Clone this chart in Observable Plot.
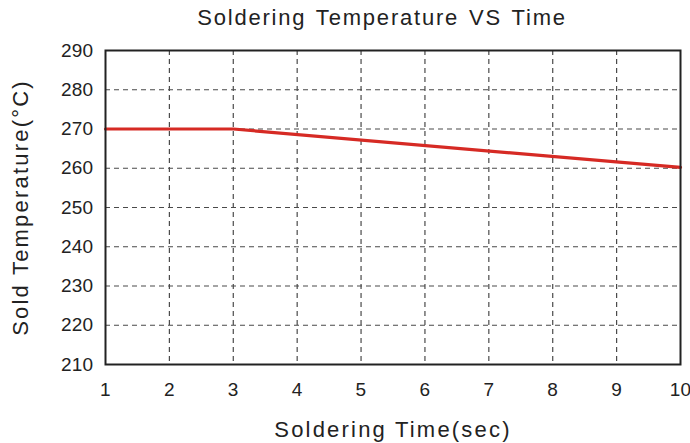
<!DOCTYPE html>
<html>
<head>
<meta charset="utf-8">
<script src="https://cdn.jsdelivr.net/npm/d3@7"></script>
<script src="https://cdn.jsdelivr.net/npm/@observablehq/plot@0.6"></script>
<style>
  body { margin: 0; background: #fff; font-family: "Liberation Sans", Arial, sans-serif; overflow: hidden; }
  #title { height: 40px; line-height: 36px; text-align: center; font-size: 22px; color: #222; letter-spacing: 1.8px; word-spacing: 2px; width: 690px; padding-left: 74px; box-sizing: border-box; white-space: nowrap; }
  svg { overflow: visible; }
  g[aria-label="x-axis label"] text, g[aria-label="y-axis label"] text { font-size: 22px !important; letter-spacing: 2.2px; fill: #222; }
  g[aria-label="x-axis label"], g[aria-label="y-axis label"] { font-size: 22px !important; }
  g[aria-label="x-axis tick label"], g[aria-label="y-axis tick label"] { letter-spacing: 0.3px; }
</style>
</head>
<body>
<div id="title">Soldering Temperature VS Time</div>
<div id="chart"></div>
<script>
const times = [1, 3, 10];
const temps = [270, 270, 260.2];
const xTicks = [1, 2, 3, 4, 5, 6, 7, 8, 9, 10];
const yTicks = [210, 220, 230, 240, 250, 260, 270, 280, 290];

const data = times.map((t, i) => ({time: t, temp: temps[i]}));

const chart = Plot.plot({
  width: 690,
  height: 403,
  marginTop: 10,
  marginBottom: 79,
  marginLeft: 105,
  marginRight: 10,
  style: {fontFamily: "Liberation Sans, Arial, sans-serif", fontSize: "19px", color: "#222", background: "#fff"},
  x: {domain: [1, 10]},
  y: {domain: [210, 290]},
  marks: [
    Plot.gridX(xTicks.slice(1, -1), {stroke: "#4a4a4a", strokeOpacity: 1, strokeWidth: 1.2, strokeDasharray: "5,4"}),
    Plot.gridY(yTicks.slice(1, -1), {stroke: "#4a4a4a", strokeOpacity: 1, strokeWidth: 1.2, strokeDasharray: "5,4"}),
    Plot.axisX(xTicks, {tickSize: 0, tickPadding: 18, fontSize: 19, label: "Soldering Time(sec)", labelAnchor: "center", labelArrow: "none", labelOffset: 72, tickFormat: d => String(d)}),
    Plot.axisY(yTicks, {tickSize: 0, tickPadding: 12, fontSize: 19, label: "Sold Temperature(°C)", labelAnchor: "center", labelArrow: "none", labelOffset: 93, tickFormat: d => String(d)}),
    Plot.line(data, {x: "time", y: "temp", stroke: "#d62a24", strokeWidth: 3.2}),
    Plot.frame({stroke: "#222", strokeWidth: 2})
  ]
});
document.getElementById("chart").appendChild(chart);
</script>
</body>
</html>
